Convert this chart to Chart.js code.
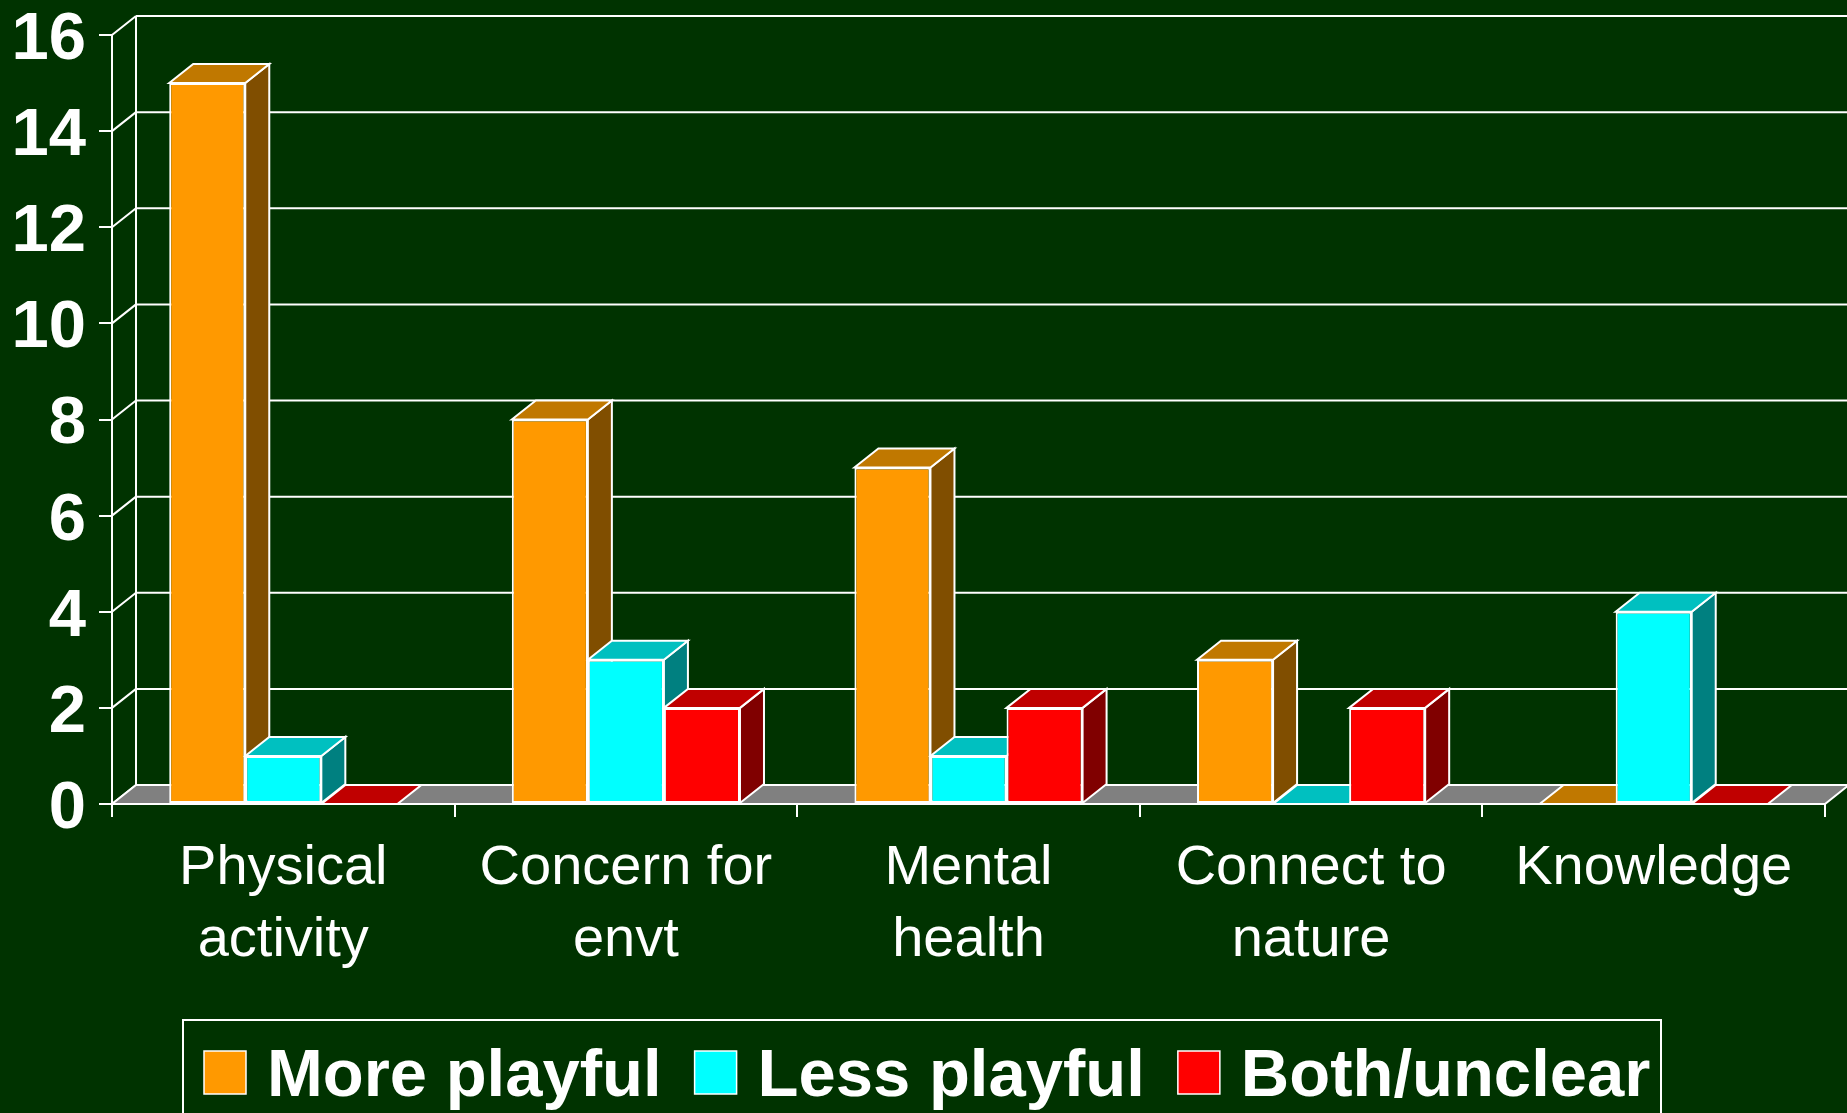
<!DOCTYPE html>
<html>
<head>
<meta charset="utf-8">
<script src="https://cdn.jsdelivr.net/npm/chart.js@4.4.0/dist/chart.umd.min.js"></script>
<style>
html,body{margin:0;padding:0;background:#003300;overflow:hidden}
#wrap{position:relative;width:1847px;height:1113px}
</style>
</head>
<body>
<div id="wrap"><canvas id="c"></canvas></div>
<script>
// ---- data ----
const categories = [['Physical', 'activity'], ['Concern for', 'envt'], ['Mental', 'health'], ['Connect to', 'nature'], ['Knowledge']];
const seriesNames = ['More playful', 'Less playful', 'Both/unclear'];
const morePlayful = [15, 8, 7, 3, 0];
const lessPlayful = [1, 3, 1, 0, 4];
const bothUnclear = [0, 2, 2, 2, 0];
const yMin = 0, yMax = 16, yStep = 2;

// ---- styles ----
const FONT = '"Liberation Sans", Arial, Helvetica, sans-serif';
const BG = '#003300';
const DX = 24, DY = -19;
const shades = [
  { front: '#FF9900', top: '#C07800', side: '#804E00' },
  { front: '#00FFFF', top: '#00C0C0', side: '#008080' },
  { front: '#FF0000', top: '#C00000', side: '#800000' }
];

function poly(ctx, pts, fill) {
  ctx.beginPath();
  ctx.moveTo(pts[0][0], pts[0][1]);
  for (let k = 1; k < pts.length; k++) ctx.lineTo(pts[k][0], pts[k][1]);
  ctx.closePath();
  ctx.fillStyle = fill;
  ctx.fill();
  ctx.stroke();
}

const threeD = {
  id: 'threeD',
  beforeDraw(chart) {
    const ctx = chart.ctx;
    ctx.save();
    ctx.fillStyle = BG;
    ctx.fillRect(0, 0, chart.width, chart.height);
    ctx.restore();
  },
  beforeDatasetsDraw(chart) {
    const { ctx, chartArea: a, scales } = chart;
    const ys = scales.y;
    ctx.save();
    ctx.strokeStyle = '#FFFFFF';
    ctx.lineWidth = 2;
    ctx.lineJoin = 'miter';
    // back wall grid lines + connectors
    ys.ticks.forEach(t => {
      const py = ys.getPixelForValue(t.value);
      ctx.beginPath();
      ctx.moveTo(a.left + DX, py + DY);
      ctx.lineTo(chart.width + 5, py + DY);
      ctx.moveTo(a.left, py);
      ctx.lineTo(a.left + DX, py + DY);
      ctx.stroke();
    });
    const y0 = ys.getPixelForValue(0);
    ctx.beginPath();
    ctx.moveTo(a.left + DX, ys.getPixelForValue(yMax) + DY);
    ctx.lineTo(a.left + DX, y0 + DY);
    ctx.stroke();
    // floor
    poly(ctx, [[a.left, y0], [a.right, y0], [a.right + DX, y0 + DY], [a.left + DX, y0 + DY]], '#808080');
    // sides and tops of bars, left to right
    const n = chart.data.labels.length;
    for (let j = 0; j < n; j++) {
      chart.data.datasets.forEach((ds, i) => {
        const el = chart.getDatasetMeta(i).data[j];
        if (!el) return;
        const p = el.getProps(['x', 'y', 'width', 'base'], true);
        const l = p.x - p.width / 2, r = p.x + p.width / 2;
        const top = Math.min(p.y, p.base), bot = Math.max(p.y, p.base);
        if (bot - top > 0.5) {
          poly(ctx, [[r, top], [r + DX, top + DY], [r + DX, bot + DY], [r, bot]], shades[i].side);
        }
        poly(ctx, [[l, top], [l + DX, top + DY], [r + DX, top + DY], [r, top]], shades[i].top);
      });
    }
    ctx.restore();
  },
  afterDraw(chart) {
    const ctx = chart.ctx;
    ctx.save();
    ctx.strokeStyle = '#FFFFFF';
    ctx.lineWidth = 2;
    ctx.strokeRect(183, 1020, 1661 - 183, 200);
    ctx.font = 'bold 67px ' + FONT;
    ctx.textBaseline = 'alphabetic';
    ctx.textAlign = 'left';
    let lx = 204;
    seriesNames.forEach((name, i) => {
      ctx.fillStyle = shades[i].front;
      ctx.fillRect(lx, 1051, 42, 43);
      ctx.lineWidth = 1.5;
      ctx.strokeRect(lx, 1051, 42, 43);
      ctx.fillStyle = '#FFFFFF';
      ctx.fillText(name, lx + 63, 1096);
      lx = lx + 63 + ctx.measureText(name).width + 33;
    });
    ctx.restore();
  }
};

const seriesValues = [morePlayful, lessPlayful, bothUnclear];

new Chart(document.getElementById('c'), {
  type: 'bar',
  data: {
    labels: categories,
    datasets: seriesValues.map((vals, i) => ({
      label: seriesNames[i],
      data: vals,
      backgroundColor: shades[i].front,
      borderColor: '#FFFFFF',
      borderWidth: 2,
      borderSkipped: false,
      categoryPercentage: 0.666,
      barPercentage: 1.0
    }))
  },
  options: {
    responsive: true,
    maintainAspectRatio: false,
    devicePixelRatio: 1,
    animation: false,
    layout: { padding: { left: 0, right: 22, top: 35, bottom: 0 } },
    plugins: { legend: { display: false }, tooltip: { enabled: false } },
    scales: {
      x: {
        offset: true,
        grid: { display: true, drawOnChartArea: false, drawTicks: true, tickLength: 13, color: '#FFFFFF', lineWidth: 2, offset: true },
        border: { display: true, color: '#FFFFFF', width: 2 },
        ticks: { color: '#FFFFFF', font: { family: FONT, size: 56, lineHeight: 72 / 56 }, padding: 16, maxRotation: 0, autoSkip: false },
        afterFit(scale) { scale.height = 309; scale.paddingLeft = 0; scale.paddingRight = 0; }
      },
      y: {
        min: yMin, max: yMax,
        grid: { display: true, drawOnChartArea: false, drawTicks: true, tickLength: 13, color: '#FFFFFF', lineWidth: 2 },
        border: { display: true, color: '#FFFFFF', width: 2 },
        ticks: {
          stepSize: yStep, color: '#FFFFFF',
          font: { family: FONT, size: 67, weight: 'bold', lineHeight: 11 / 67 },
          padding: 13,
          callback: (v) => ['', String(v)]
        },
        afterFit(scale) { scale.width = 112; scale.paddingTop = 0; scale.paddingBottom = 0; }
      }
    }
  },
  plugins: [threeD]
});
</script>
</body>
</html>
